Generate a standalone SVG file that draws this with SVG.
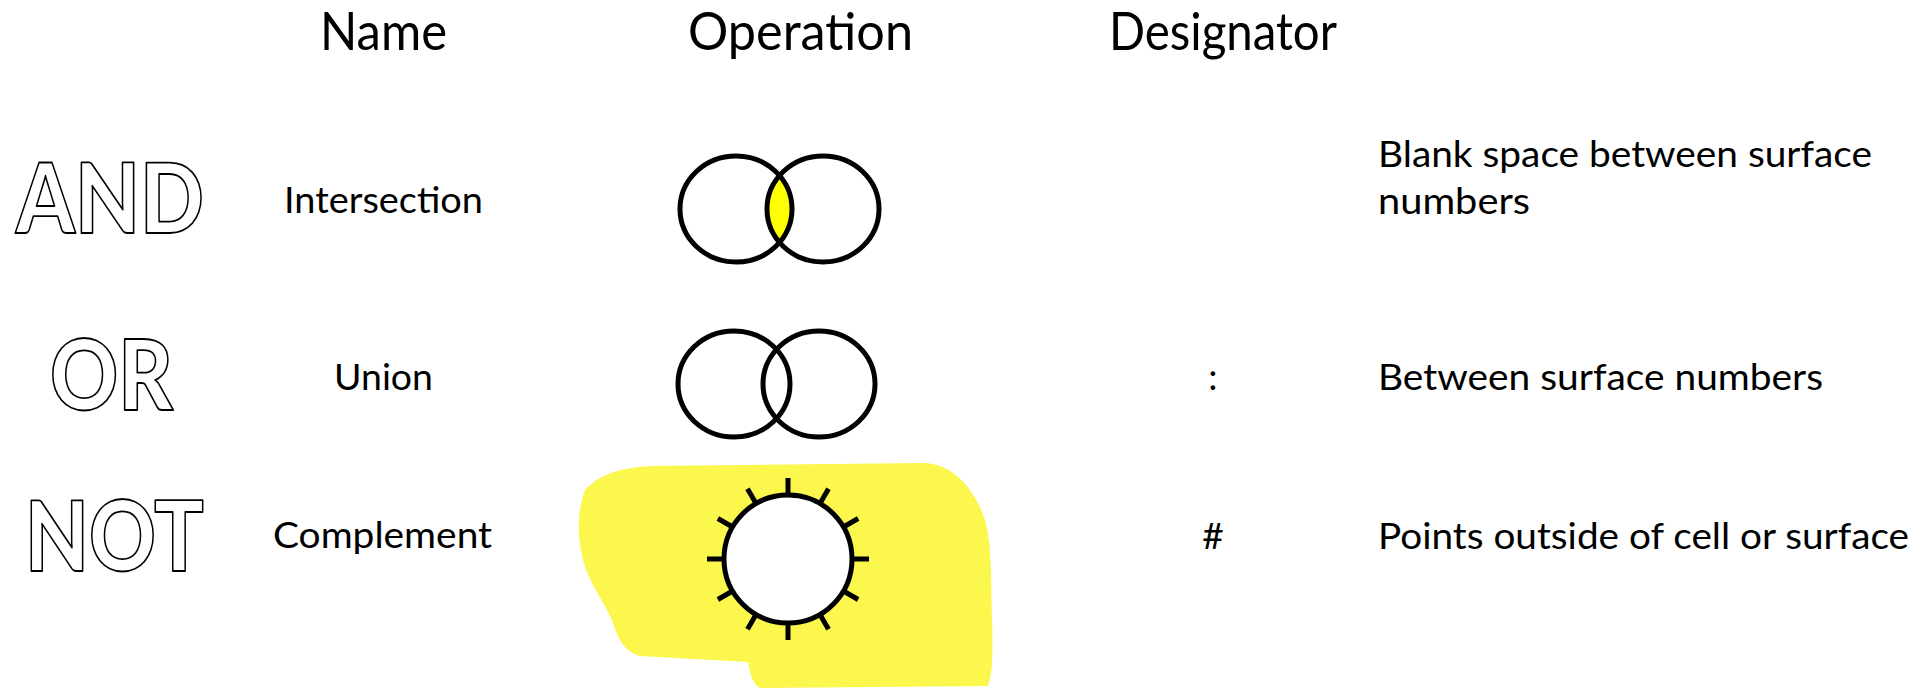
<svg xmlns="http://www.w3.org/2000/svg" xmlns:xlink="http://www.w3.org/1999/xlink" width="1930" height="693" viewBox="0 0 1930 693">
  <style>
    .hdr { font-family: Lato, "Open Sans", "Liberation Sans", sans-serif; font-size: 53px; fill: #000; }
    .txt { font-family: Lato, "Open Sans", "Liberation Sans", sans-serif; font-size: 37px; fill: #000; }
    .big { font-family: Lato, "Open Sans", "Liberation Sans", sans-serif; font-weight: 900; font-size: 98px; fill: #fff; stroke: #000; stroke-width: 1.8; stroke-linejoin: round; }
    .ring { fill: none; stroke: #000; stroke-width: 5; }
    .tick { stroke: #000; stroke-width: 5; }
  </style>
  <defs>
    <line id="tick" class="tick" x1="788" y1="495" x2="788" y2="478"/>
  </defs>

  <rect x="0" y="0" width="1930" height="693" fill="#fff"/>

  <!-- column headings -->
  <g id="headings">
    <text class="hdr" x="320" y="50" textLength="127" lengthAdjust="spacingAndGlyphs">Name</text>
    <text class="hdr" x="688" y="50" textLength="225" lengthAdjust="spacingAndGlyphs">Operation</text>
    <text class="hdr" x="1109" y="50" textLength="228" lengthAdjust="spacingAndGlyphs">Designator</text>
  </g>

  <!-- AND : intersection -->
  <g id="row-and">
    <text class="big" x="16" y="233" textLength="188" lengthAdjust="spacingAndGlyphs">AND</text>
    <text class="txt" x="284" y="213" textLength="199" lengthAdjust="spacingAndGlyphs">Intersection</text>
    <path d="M779.5,175.6 A56,53 0 0 0 779.5,242.4 A56,53 0 0 0 779.5,175.6 Z" fill="#ffff00"/>
    <ellipse class="ring" cx="736" cy="209" rx="56" ry="53"/>
    <ellipse class="ring" cx="823" cy="209" rx="56" ry="53"/>
    <text class="txt" x="1378" y="167" textLength="494" lengthAdjust="spacingAndGlyphs">Blank space between surface</text>
    <text class="txt" x="1378" y="214" textLength="152" lengthAdjust="spacingAndGlyphs">numbers</text>
  </g>

  <!-- OR : union -->
  <g id="row-or">
    <text class="big" x="50" y="410" textLength="123" lengthAdjust="spacingAndGlyphs">OR</text>
    <text class="txt" x="334" y="390" textLength="99" lengthAdjust="spacingAndGlyphs">Union</text>
    <ellipse class="ring" cx="734" cy="384" rx="56" ry="53"/>
    <ellipse class="ring" cx="819" cy="384" rx="56" ry="53"/>
    <text class="txt" x="1213" y="390" text-anchor="middle">:</text>
    <text class="txt" x="1378" y="390" textLength="445" lengthAdjust="spacingAndGlyphs">Between surface numbers</text>
  </g>

  <!-- NOT : complement -->
  <g id="row-not">
    <text class="big" x="25" y="571" textLength="179" lengthAdjust="spacingAndGlyphs">NOT</text>
    <text class="txt" x="273" y="548" textLength="219" lengthAdjust="spacingAndGlyphs">Complement</text>
    <path d="M585,490 C600,474 620,468 650,466 L925,463 C955,465 975,490 985,520 C992,545 991,580 992,620 C993,650 993,672 988,686 L760,688 C752,684 750,672 748,662 L640,656 C625,652 618,640 612,620 C603,600 590,585 583,560 C578,540 576,515 585,490 Z" fill="#fbf74c"/>
    <circle cx="788" cy="559" r="64" fill="#fff" stroke="#000" stroke-width="5"/>
    <use xlink:href="#tick"/>
    <use xlink:href="#tick" transform="rotate(30 788 559)"/>
    <use xlink:href="#tick" transform="rotate(60 788 559)"/>
    <use xlink:href="#tick" transform="rotate(90 788 559)"/>
    <use xlink:href="#tick" transform="rotate(120 788 559)"/>
    <use xlink:href="#tick" transform="rotate(150 788 559)"/>
    <use xlink:href="#tick" transform="rotate(180 788 559)"/>
    <use xlink:href="#tick" transform="rotate(210 788 559)"/>
    <use xlink:href="#tick" transform="rotate(240 788 559)"/>
    <use xlink:href="#tick" transform="rotate(270 788 559)"/>
    <use xlink:href="#tick" transform="rotate(300 788 559)"/>
    <use xlink:href="#tick" transform="rotate(330 788 559)"/>
    <text class="txt" x="1213" y="549" text-anchor="middle">#</text>
    <text class="txt" x="1378" y="549" textLength="531" lengthAdjust="spacingAndGlyphs">Points outside of cell or surface</text>
  </g>
</svg>
